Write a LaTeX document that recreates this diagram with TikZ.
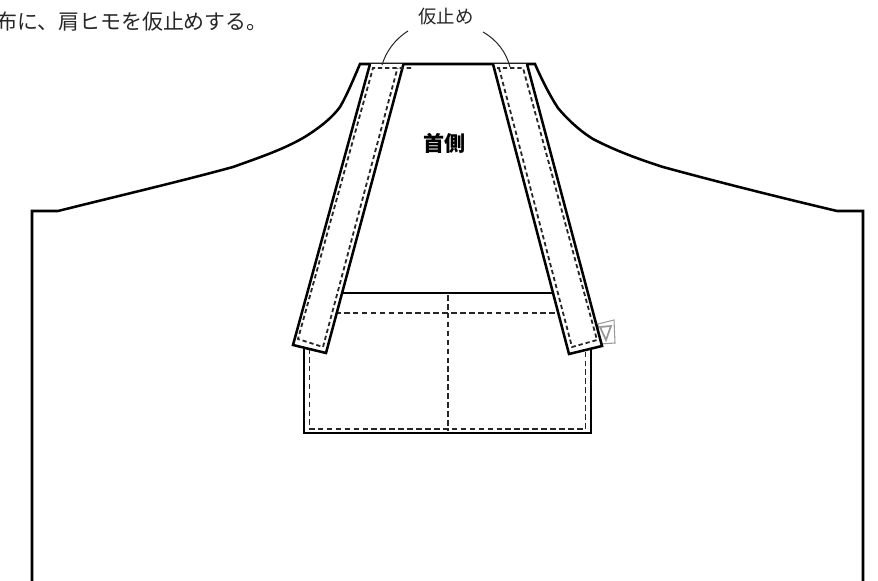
\documentclass[tikz,border=0pt]{standalone}
\usepackage{fontspec}
\setmainfont{Noto Sans CJK JP}
\tikzset{
  main/.style={line width=1.9pt,black,line join=miter},
  stitch/.style={line width=1.25pt,black!85,dash pattern=on 4.2pt off 2.5pt},
  stitchs/.style={line width=1.35pt,black!85,dash pattern=on 3.2pt off 2.2pt},
  lead/.style={line width=0.75pt,black!85},
  ghost/.style={line width=0.8pt,black!40},
  lab/.style={inner sep=0pt,text=black!85}
}
\begin{document}
\begin{tikzpicture}[x=0.75pt,y=-0.75pt]
\useasboundingbox (0,0) rectangle (878,581);
\clip (0,0) rectangle (878,581);
\fill[white] (0,0) rectangle (878,581);
% small ghost mark
\draw[ghost,fill=white] (598,324) -- (614,320) -- (615,343) -- (600,344) -- cycle;
\draw[ghost,line width=1.3pt] (600,327) -- (611,326) -- (606,340) -- cycle;
% body outline
\draw[main] (32,590) -- (32,211) -- (58,211)
  .. controls (118,196) and (178,182) .. (233,167)
  .. controls (258,158) and (282,150) .. (303,138)
  .. controls (318,129) and (332,118) .. (340,107)
  .. controls (347,95) and (354,78) .. (360,64)
  -- (535,64)
  .. controls (541,78) and (550,96) .. (558,108)
  .. controls (567,119) and (580,131) .. (593,139)
  .. controls (614,150) and (638,159) .. (663,167)
  .. controls (718,182) and (778,197) .. (837,211)
  -- (863,211) -- (863,590);
% pocket
\draw[main] (304,345) -- (304,433) -- (591,433) -- (591,345);
\draw[main] (340,293) -- (558,293);
\draw[stitch] (335,313) -- (562,313);
\draw[stitch] (448,295) -- (448,431);
\draw[stitch] (309.5,348) -- (309.5,429) -- (585.5,429) -- (585.5,348);
% straps
\draw[main,fill=white] (370,64) -- (293,345) -- (326,353) -- (403.5,64);
\draw[main,fill=white] (493,64) -- (569,354) -- (602,346) -- (527,64);
\draw[stitchs] (411,68) -- (373,68) -- (298,339) -- (323,347) -- (397.5,68);
\draw[stitchs] (499,68) -- (572,347) -- (597,340) -- (523,68) -- (497,68);
% leaders
\coordinate (la) at (408,31);
\coordinate (lb) at (382,65);
\coordinate (ra) at (483,32);
\coordinate (rb) at (510,67);
\draw[lead] (la) .. controls (394,40) and (386,52) .. (lb);
\draw[lead] (ra) .. controls (497,40) and (506,52) .. (rb);
% texts
\node[lab,anchor=center,font=\fontsize{13.8pt}{13.8pt}\selectfont] (tack) at (446,17) {仮止め};
\node[lab,anchor=center,text=black,font=\fontsize{15.8pt}{15.8pt}\selectfont\bfseries] (neck) at (444.5,143) {首側};
\node[lab,anchor=east,font=\fontsize{15.7pt}{15.7pt}\selectfont] (cap) at (268,22) {布に、肩ヒモを仮止めする。};
\end{tikzpicture}
\end{document}
